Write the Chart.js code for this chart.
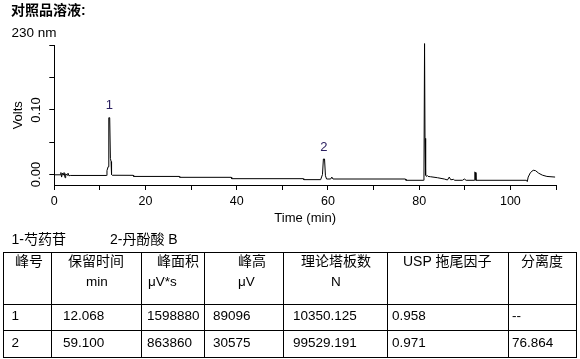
<!DOCTYPE html>
<html><head><meta charset="utf-8">
<script src="https://cdn.jsdelivr.net/npm/chart.js@4.4.1/dist/chart.umd.min.js"></script>
<style>
html,body{margin:0;padding:0;background:#fff;}
#wrap{position:relative;width:580px;height:359px;overflow:hidden;font-family:"Liberation Sans","Noto Sans CJK SC",sans-serif;color:#000;}
#c{position:absolute;left:0;top:0;}
.t{position:absolute;white-space:nowrap;font-size:14px;line-height:16px;}
.ln{position:absolute;background:#000;}
</style></head>
<body><div id="wrap">
<canvas id="c" width="580" height="359"></canvas>
</div>
<script>
// ---- chromatogram data (time in min, signal in Volts) ----
const times = [0, 1.3, 1.45, 1.6, 1.8, 2.0, 2.15, 2.35, 2.5, 2.8, 3.0, 3.2, 3.5,
  11.4, 11.55, 11.8, 11.95, 12.15, 12.3, 12.45, 12.55, 12.7,
  17.3, 17.4, 27.4, 27.5, 38.8, 38.9, 54.6, 54.7,
  58.4, 58.8, 59.0, 59.25, 59.45, 59.7, 60.6, 60.85, 61.1,
  77.0, 77.1, 80.9, 81.05, 81.18, 81.28, 81.38, 81.45, 81.6, 81.75, 81.95,
  82.5, 84.0, 85.5, 86.2, 86.6, 86.9, 87.2, 87.5, 87.8, 89.5, 89.9, 90.3,
  92.1, 92.2, 92.35, 92.45, 103.5, 103.7, 103.9, 104.4, 105.0, 105.5,
  106.2, 107.0, 108.0, 109.8];
const volts = [-0.0005, -0.0005, 0.003, -0.004, 0.002, -0.001, 0.003, -0.005, 0.001, -0.001, 0.002, -0.002, -0.0015,
  -0.0015, 0.006, 0.012, 0.088, 0.088, 0.025, 0.02, 0.0, -0.0012,
  -0.0013, -0.003, -0.003, -0.0044, -0.0044, -0.0065, -0.0065, -0.008,
  -0.008, 0.0, 0.024, 0.024, -0.002, -0.007, -0.007, -0.004, -0.007,
  -0.007, -0.009, -0.009, -0.004, 0.203, 0.056, 0.048, -0.001, -0.003, -0.0015, -0.003,
  -0.0035, -0.005, -0.007, -0.0085, -0.004, -0.008, -0.008, -0.0075, -0.009, -0.009, -0.007, -0.009,
  -0.009, 0.004, 0.003, -0.009, -0.009, -0.011, -0.004, 0.003, 0.0065, 0.006,
  0.002, -0.001, -0.003, -0.004];
const peakNames = ['1', '2'];
const peakTimes = [12.068, 59.100];
const peakApex = [0.088, 0.024];
const xTicks = [0, 10, 20, 30, 40, 50, 60, 70, 80, 90, 100, 110];
const xLabelValues = [0, 20, 40, 60, 80, 100];
const yTicks = [0, 0.0125, 0.025, 0.0375, 0.05, 0.0625, 0.075, 0.0875, 0.1,
  0.1125, 0.125, 0.1375, 0.15, 0.1625, 0.175, 0.1875, 0.2];
const yLabelValues = [0, 0.1];
const compounds = ['1-芍药苷', '2-丹酚酸 B'];
const tableHead1 = ['峰号', '保留时间', '峰面积', '峰高', '理论塔板数', 'USP 拖尾因子', '分离度'];
const tableHead2 = ['', 'min', 'μV*s', 'μV', 'N', '', ''];
const row1 = ['1', '12.068', '1598880', '89096', '10350.125', '0.958', '--'];
const row2 = ['2', '59.100', '863860', '30575', '99529.191', '0.971', '76.864'];

// ---- layout (positions only) ----
const wrap = document.getElementById('wrap');
function addText(txt, left, cy, extra) {
  const d = document.createElement('div');
  d.className = 't';
  d.textContent = txt;
  d.style.left = left + 'px';
  d.style.top = (cy - 8) + 'px';
  if (extra) Object.assign(d.style, extra);
  wrap.appendChild(d);
}
function addLine(x, y, w, h) {
  const d = document.createElement('div');
  d.className = 'ln';
  d.style.left = x + 'px'; d.style.top = y + 'px';
  d.style.width = w + 'px'; d.style.height = h + 'px';
  wrap.appendChild(d);
}
addText('对照品溶液:', 11, 9.5, {fontWeight: 'bold', fontSize: '14px'});
addText('230 nm', 11.5, 33, {fontSize: '13.5px'});
addText(compounds[0], 11.5, 238.5);
addText(compounds[1], 110, 238.5);

const colX = [3, 51, 141, 204, 283, 387, 508, 576];
const rowY = [252, 304, 330, 357];
rowY.forEach(y => addLine(colX[0], y, colX[colX.length - 1] - colX[0] + 1, 1));
colX.forEach(x => addLine(x, rowY[0], 1, rowY[rowY.length - 1] - rowY[0] + 1));
const h1Left = [15, 68, 157, 238, 301, 403, 521];
const h2Left = [0, 86, 148, 238, 331, 0, 0];
const dLeft = [11.5, 63, 147, 213, 293, 392, 512];
tableHead1.forEach((s, i) => addText(s, h1Left[i], 260.5));
tableHead2.forEach((s, i) => { if (s) addText(s, h2Left[i], 282, {fontSize: '13.5px'}); });
row1.forEach((s, i) => addText(s, dLeft[i], 316, {fontSize: '13.5px'}));
row2.forEach((s, i) => addText(s, dLeft[i], 342.5, {fontSize: '13.5px'}));

// ---- chart ----
const FONT = '"Liberation Sans", "Noto Sans CJK SC", sans-serif';
const peakLabelPlugin = {
  id: 'peakLabels',
  afterDatasetsDraw(chart) {
    const {ctx, scales: {x, y}} = chart;
    ctx.save();
    ctx.font = '13px ' + FONT;
    ctx.fillStyle = '#2b2060';
    ctx.textAlign = 'center';
    ctx.textBaseline = 'middle';
    peakNames.forEach((n, i) => {
      ctx.fillText(n, x.getPixelForValue(peakTimes[i]), y.getPixelForValue(peakApex[i]) - 12);
    });
    ctx.restore();
  }
};

new Chart(document.getElementById('c'), {
  type: 'line',
  data: {
    datasets: [{
      data: times.map((t, i) => ({x: t, y: volts[i]})),
      borderColor: '#000',
      borderWidth: 1,
      pointRadius: 0,
      tension: 0,
      fill: false,
      clip: false
    }]
  },
  options: {
    responsive: false,
    devicePixelRatio: 1,
    animation: false,
    layout: {padding: {left: 0, top: 45.5, right: 24, bottom: 132.5}},
    plugins: {legend: {display: false}, tooltip: {enabled: false}},
    scales: {
      x: {
        type: 'linear', min: 0, max: 110,
        afterBuildTicks: s => { s.ticks = xTicks.map(v => ({value: v})); },
        afterFit: s => { s.height = 41.5; },
        ticks: {
          autoSkip: false, maxRotation: 0, minRotation: 0, padding: 4,
          font: {family: FONT, size: 12.5}, color: '#000',
          callback: v => xLabelValues.includes(v) ? String(v) : ''
        },
        grid: {drawOnChartArea: false, drawTicks: true, tickLength: 5, color: '#000'},
        border: {display: true, color: '#000', width: 1},
        title: {display: true, text: 'Time (min)', font: {family: FONT, size: 13}, color: '#000', padding: {top: 0, bottom: 0}}
      },
      y: {
        type: 'linear', min: -0.0163, max: 0.2,
        afterBuildTicks: s => { s.ticks = yTicks.map(v => ({value: v})); },
        afterFit: s => { s.width = 54.3; },
        ticks: {
          minRotation: 90, maxRotation: 90, crossAlign: 'center', padding: 0,
          font: {family: FONT, size: 13}, color: '#000',
          callback: v => yLabelValues.some(l => Math.abs(l - v) < 1e-9) ? v.toFixed(2) : ''
        },
        grid: {drawOnChartArea: false, drawTicks: true, tickLength: 5, color: '#000'},
        border: {display: true, color: '#000', width: 1},
        title: {display: true, text: 'Volts', font: {family: FONT, size: 13}, color: '#000', padding: {top: 11, bottom: 0}}
      }
    }
  },
  plugins: [peakLabelPlugin]
});
</script>
</body></html>
